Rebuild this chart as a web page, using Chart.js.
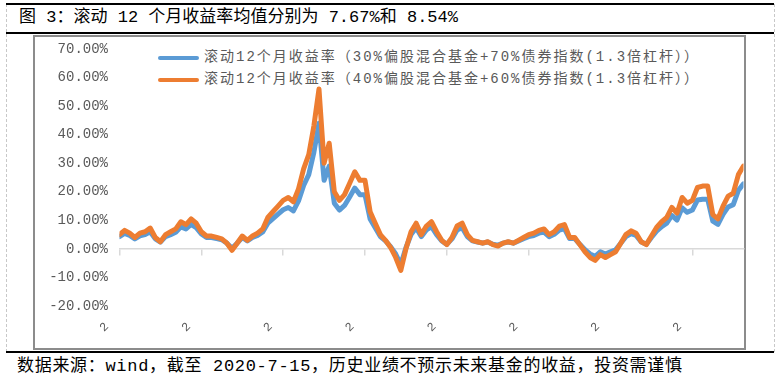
<!DOCTYPE html>
<html>
<head>
<meta charset="utf-8">
<script src="https://cdn.jsdelivr.net/npm/chart.js@4.4.0/dist/chart.umd.min.js"></script>
<style>
  body { margin:0; width:780px; height:381px; background:#fff; position:relative; overflow:hidden; }
  .hline { position:absolute; left:6px; width:768px; height:2px; background:#000; }
  .vdash { position:absolute; top:4px; height:348px; width:0; border-left:1px dashed #c8c8c8; }
  #frame { position:absolute; left:33px; top:35px; width:713px; height:315px; box-sizing:border-box; border:2px solid #8c8c8c; }
  .txt { position:absolute; white-space:nowrap; font-family:"Liberation Mono","Noto Sans CJK SC",sans-serif; }
  #title, #source { font-size:17px; line-height:20px; color:#000; }
  .lg-line { position:absolute; left:158px; width:41px; height:4px; border-radius:2px; }
  .lg-text { left:204px; font-size:14px; line-height:16px; color:#595959; }
  #c { position:absolute; left:0; top:0; }
</style>
</head>
<body>
<div class="vdash" style="left:6px"></div>
<div class="vdash" style="left:774px"></div>
<div class="hline" style="top:3px"></div>
<div class="hline" style="top:32px"></div>
<div class="hline" style="top:351px"></div>
<div id="frame"></div>
<div id="title" class="txt" style="left:19px; top:8px">图 3：滚动 12 个月收益率均值分别为 7.67%和 8.54%</div>
<div id="source" class="txt" style="left:17px; top:357px">数据来源：wind，截至 2020-7-15，历史业绩不预示未来基金的收益，投资需谨慎</div>
<div id="legend"></div>
<canvas id="c" width="780" height="381"></canvas>
<script>
// rolling 12m return, 30/70 mix (blue) and 40/60 mix (orange), in %
var blueVals = [4.3,5.4,4.7,3.5,4.6,5.0,6.0,3.5,2.4,4.3,
  5.0,5.8,7.7,7.0,8.6,7.4,5.2,4.0,4.0,3.6,
  3.2,2.0,0.2,2.0,4.0,2.8,4.0,4.7,5.9,9.0,
  10.6,12.2,13.7,14.5,13.3,16.8,22.2,26.0,33.8,44.0,
  24.0,29.0,16.0,13.6,15.2,18.2,21.3,19.0,19.0,10.5,
  7.4,4.3,2.8,0.8,-1.8,-5.5,0.4,5.0,7.4,4.3,
  6.6,7.8,5.0,2.8,1.6,3.5,6.6,7.4,4.3,2.8,
  2.4,2.0,2.4,1.6,1.3,2.0,2.4,2.0,2.8,3.6,
  4.3,4.7,5.5,5.9,4.3,5.1,6.6,7.0,3.6,3.6,
  1.6,-0.3,-1.8,-2.6,-1.0,-1.8,-1.0,-0.3,2.0,4.3,
  5.3,4.7,2.4,1.6,4.0,6.2,7.8,9.0,11.7,10.1,
  14.4,12.8,13.6,17.1,17.4,17.4,9.7,8.6,12.1,14.7,
  15.5,20.5,22.8];
var orangeVals = [5,6.5,5.5,4,5.5,6,7.3,4,2.5,5,
  6,7,9.5,8.5,10.5,9,6,4.5,4.5,4,
  3.5,2,-0.5,2,4.5,3,4.5,5.5,7,11,
  13,15,17,18,16.5,21,28,33,43,56,
  30,37,20,17,19,23,27,24,24,13,
  9,5,3,0.5,-3,-7.5,0,6,9,5,
  8,9.5,6,3,1.5,4,8,9,5,3,
  2.5,2,2.5,1.5,1,2,2.5,2,3,4,
  5,5.5,6.5,7,5,6,8,8.5,4,4,
  1.5,-1,-3,-4,-2,-3,-2,-1,2,5,
  6.3,5.5,2.5,1.5,4.5,7.5,9.5,11,14.5,12.5,
  18,16,17,21.5,22,22,12,10.5,15,18.5,
  19.5,26,29];
var seriesNames = ['滚动12个月收益率（30%偏股混合基金+70%债券指数(1.3倍杠杆））',
                   '滚动12个月收益率（40%偏股混合基金+60%债券指数(1.3倍杠杆））'];
var seriesColors = ['#5B9BD5', '#ED7D31'];
var tickLabels = ['2','2','2','2','2','2','2','2'];

function toPoints(vals) {
  return vals.map(function(v, i) { return {x: i, y: v}; });
}

function fitText(el, target) {
  el.style.letterSpacing = '0px';
  var w = el.getBoundingClientRect().width;
  var n = el.textContent.length;
  el.style.letterSpacing = ((target - w) / (n - 1)) + 'px';
}

var ctx = document.getElementById('c').getContext('2d');
var chart = new Chart(ctx, {
  type: 'line',
  data: {
    datasets: [
      { label: seriesNames[0], data: toPoints(blueVals), borderColor: seriesColors[0], order: 1 },
      { label: seriesNames[1], data: toPoints(orangeVals), borderColor: seriesColors[1], order: 0 }
    ]
  },
  options: {
    responsive: false,
    animation: false,
    layout: { padding: { left: 0, right: 36.5, top: 49, bottom: 45 } },
    elements: {
      point: { radius: 0 },
      line: { borderWidth: 5, tension: 0, borderCapStyle: 'round', borderJoinStyle: 'round' }
    },
    plugins: { legend: { display: false }, tooltip: { enabled: false } },
    scales: {
      x: {
        type: 'linear', min: 0, max: 122, position: { y: 0 },
        ticks: { display: false, stepSize: 16, includeBounds: false },
        grid: { drawOnChartArea: false, drawTicks: true, tickLength: 6, color: '#d9d9d9', lineWidth: 1.5 },
        border: { color: '#d9d9d9', width: 1.5 }
      },
      x2: {
        type: 'linear', position: 'bottom', min: 0, max: 122,
        ticks: {
          stepSize: 16, includeBounds: false, autoSkip: false,
          minRotation: 45, maxRotation: 45, labelOffset: -12.6, padding: 13.5,
          color: '#595959', font: { family: 'Liberation Mono', size: 12 },
          callback: function(v, i) { return tickLabels[i]; }
        },
        grid: { display: false, drawTicks: false },
        border: { display: false },
        afterFit: function(s) { s.height = 30; }
      },
      y: {
        min: -20, max: 70,
        ticks: {
          stepSize: 10, padding: 11.5, color: '#595959',
          font: { family: 'Liberation Mono', size: 14 },
          callback: function(v) { return v.toFixed(2) + '%'; }
        },
        grid: { display: false, drawTicks: false },
        border: { display: false },
        afterFit: function(s) { s.width = 119.5; }
      }
    }
  }
});

// legend built from the datasets
var legend = document.getElementById('legend');
var rowTops = [56, 78];
chart.data.datasets.forEach(function(ds, i) {
  var line = document.createElement('div');
  line.className = 'lg-line';
  line.style.top = rowTops[i] + 'px';
  line.style.background = ds.borderColor;
  legend.appendChild(line);
  var t = document.createElement('div');
  t.className = 'txt lg-text';
  t.style.top = (rowTops[i] - 7) + 'px';
  t.textContent = ds.label;
  legend.appendChild(t);
  fitText(t, 494);
});

fitText(document.getElementById('title'), 439);
fitText(document.getElementById('source'), 665);
</script>
</body>
</html>
